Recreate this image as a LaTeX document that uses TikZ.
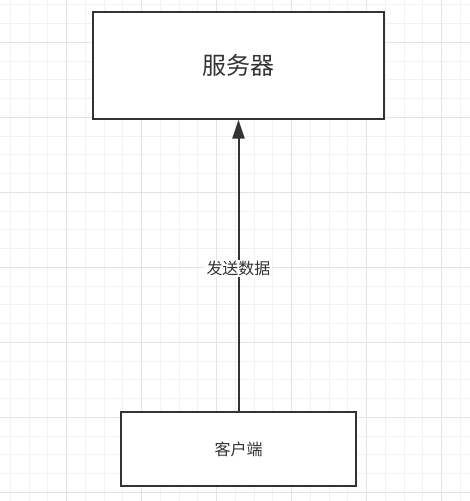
\documentclass[tikz,border=0pt]{standalone}
\usepackage{fontspec}
\setmainfont{Noto Sans CJK SC}
\usepackage{tikz}
\usetikzlibrary{arrows.meta}

\definecolor{linegray}{HTML}{333333}
\definecolor{minorgrid}{HTML}{F2F2F2}
\definecolor{majorgrid}{HTML}{E4E4E4}

\begin{document}
\begin{tikzpicture}[x=0.75pt, y=-0.75pt, >={Triangle[length=14pt, width=9pt]},
  box/.style={draw=linegray, line width=1.5pt, fill=white, inner sep=0pt},
  label/.style={fill=white, text=linegray, font=\fontsize{12pt}{14pt}\selectfont, inner sep=1pt}]
  % Canvas
  \useasboundingbox (0,0) rectangle (470,501);
  \fill[white] (0,0) rectangle (470,501);

  % Background grid
  \foreach \k in {0,...,24}
    \draw[minorgrid, line width=0.75pt] (10.4+18.75*\k,0) -- (10.4+18.75*\k,501);
  \foreach \k in {0,...,26}
    \draw[minorgrid, line width=0.75pt] (0,4.8+18.75*\k) -- (470,4.8+18.75*\k);
  \foreach \k in {0,...,5}
    \draw[majorgrid, line width=0.75pt] (66.7+75*\k,0) -- (66.7+75*\k,501);
  \foreach \k in {0,...,6}
    \draw[majorgrid, line width=0.75pt] (0,42.3+75*\k) -- (470,42.3+75*\k);

  % Server
  \node[box, minimum width=218pt, minimum height=80pt, text=linegray,
    font=\fontsize{18pt}{21pt}\selectfont] (server) at (238.5,65.5) {服务器};

  % Client
  \node[box, minimum width=176pt, minimum height=55.5pt, text=linegray,
    font=\fontsize{12pt}{14pt}\selectfont] (client) at (238.5,449) {客户端};

  % Request
  \draw[->, linegray, line width=1.5pt] (client.north) -- (server.south)
    node[label, pos=0.49] (send) {发送数据};
\end{tikzpicture}
\end{document}
